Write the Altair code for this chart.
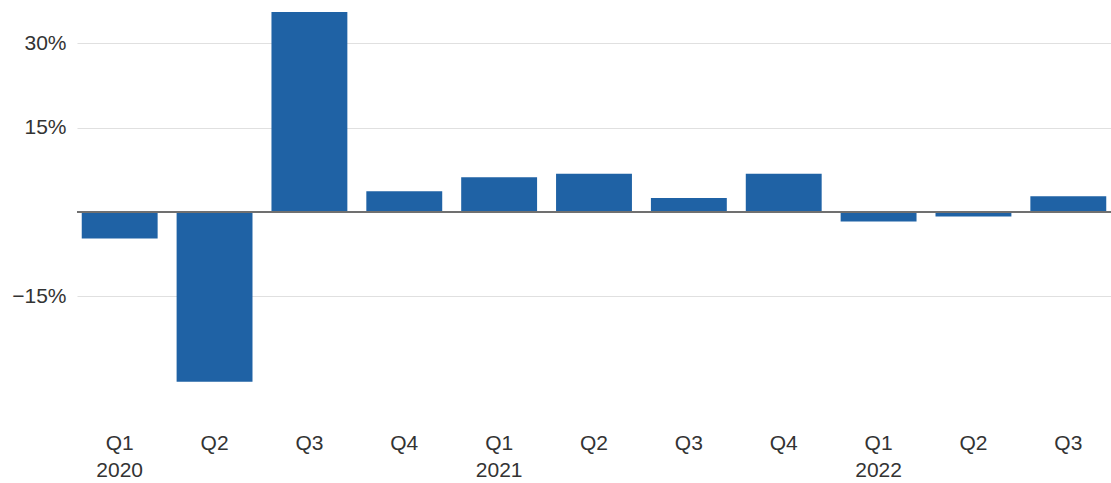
import altair as alt
import pandas as pd

quarters = ["Q1", "Q2", "Q3", "Q4", "Q1", "Q2", "Q3", "Q4", "Q1", "Q2", "Q3"]
years = ["2020", "2020", "2020", "2020", "2021", "2021", "2021", "2021", "2022", "2022", "2022"]
growth = [-4.7, -30.2, 35.6, 3.7, 6.2, 6.8, 2.5, 6.8, -1.7, -0.8, 2.8]
y_ticks = [-15, 15, 30]

df = pd.DataFrame({
    "key": [f"{y} {q}" for y, q in zip(years, quarters)],
    "growth": growth,
})

x = alt.X(
    "key:N",
    sort=None,
    title=None,
    scale=alt.Scale(paddingInner=0.2, paddingOuter=0.05),
    axis=alt.Axis(
        labelExpr="substring(datum.value, 5) == 'Q1' ? [substring(datum.value, 5), substring(datum.value, 0, 4)] : substring(datum.value, 5)",
        labelAngle=0,
        ticks=False,
        domain=False,
        grid=False,
        labelFontSize=21,
        labelFont="Liberation Sans",
        labelColor="#333333",
        labelPadding=12,
        labelLineHeight=27,
        labelBaseline="top",
    ),
)

bars = alt.Chart(df).mark_bar(color="#1f62a5").encode(
    x=x,
    y=alt.Y(
        "growth:Q",
        title=None,
        scale=alt.Scale(domain=[-37, 35.6], nice=False, zero=False),
        axis=alt.Axis(
            values=y_ticks,
            labelExpr="datum.value < 0 ? '\u2212' + abs(datum.value) + '%' : datum.value + '%'",
            ticks=False,
            domain=False,
            grid=True,
            gridColor="#e0e0e0",
            gridWidth=1.2,
            labelFontSize=21,
            labelFont="Liberation Sans",
            labelColor="#333333",
            labelPadding=11,
        ),
    ),
)

zero = alt.Chart(pd.DataFrame({"v": [0]})).mark_rule(color="#707070", strokeWidth=2).encode(
    y=alt.Y("v:Q")
)

chart = (
    alt.layer(bars, zero)
    .properties(
        width=1034,
        height=408,
        view=alt.ViewBackground(strokeWidth=0, strokeOpacity=0),
        autosize=alt.AutoSizeParams(type="none"),
        padding={"left": 77, "top": 12, "right": 0, "bottom": 63},
    )
    .configure_view(strokeWidth=0, strokeOpacity=0)
    .configure_axis(grid=False)
    .configure_axisY(grid=True)
    .configure(background="white")
)

chart.save("out.html", embed_options={"renderer": "svg", "actions": False})
